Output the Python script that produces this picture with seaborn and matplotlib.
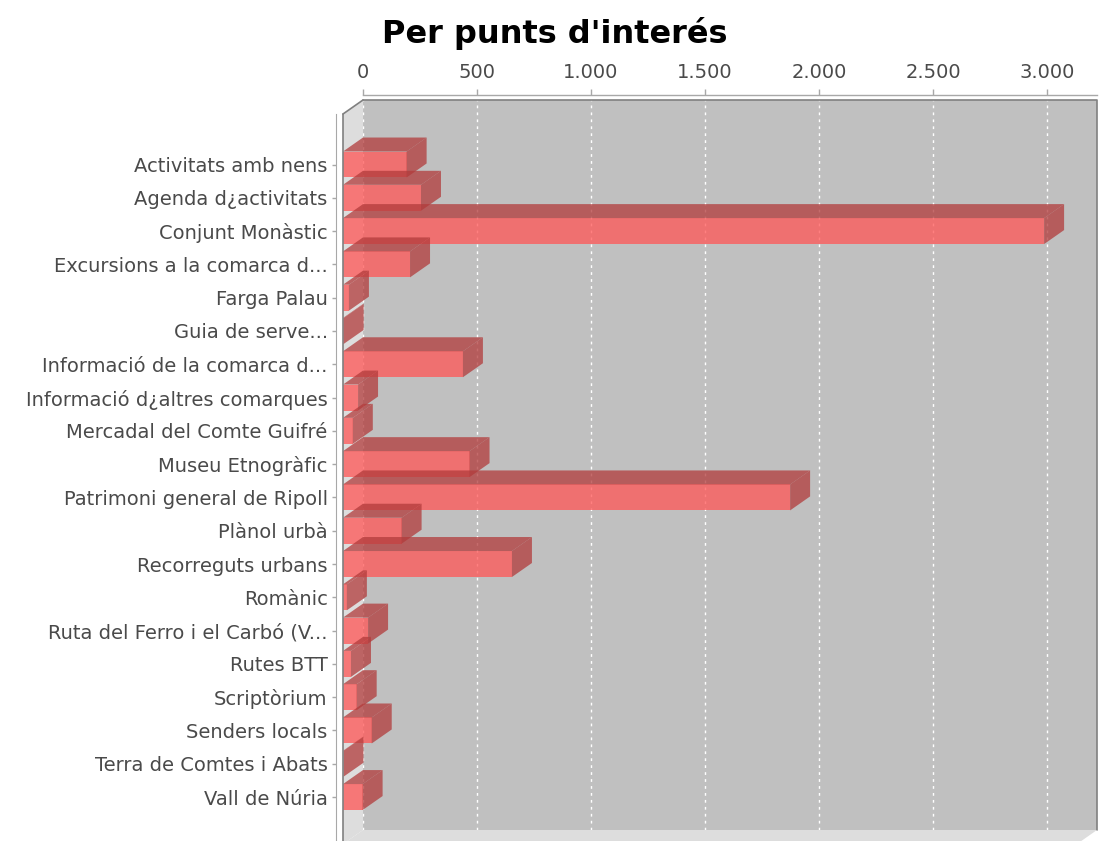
"""
Per punts d'interés - 3D style horizontal bar chart (JFreeChart look)
"""
import matplotlib
matplotlib.use('Agg')
import matplotlib.pyplot as plt
from matplotlib.patches import Polygon
from matplotlib.ticker import FuncFormatter
import seaborn as sns
import pandas as pd

# Data
categories = [
    'Activitats amb nens', 'Agenda d¿activitats', 'Conjunt Monàstic',
    'Excursions a la comarca d...', 'Farga Palau', 'Guia de serve...',
    'Informació de la comarca d...', 'Informació d¿altres comarques',
    'Mercadal del Comte Guifré', 'Museu Etnogràfic', 'Patrimoni general de Ripoll',
    'Plànol urbà', 'Recorreguts urbans', 'Romànic', 'Ruta del Ferro i el Carbó (V...',
    'Rutes BTT', 'Scriptòrium', 'Senders locals', 'Terra de Comtes i Abats',
    'Vall de Núria',
]
visits = [279, 342, 3075, 294, 26, 3, 526, 66, 43, 555, 1961, 257, 741, 17, 110,
          35, 60, 126, 2, 86]
x_ticks = [0, 500, 1000, 1500, 2000, 2500, 3000]
title = "Per punts d'interés"

df = pd.DataFrame({'cat': categories, 'val': visits})

# Colours
BAR = '#FF5555'
BAR_DARK = '#B23B3B'
ALPHA = 0.75
WALL_BACK = '#C0C0C0'
WALL_SIDE = '#DDDDDD'
TXT = '#4A4A4A'
AXIS = '#A8A8A8'
OUTLINE = '#808080'

sns.set_style('white')
plt.rcParams['font.family'] = ['DejaVu Sans']

W, H = 1099, 841
fig = plt.figure(figsize=(W / 100, H / 100), dpi=100)


def frac(l, t, r, b):
    return [l / W, 1 - b / H, (r - l) / W, (b - t) / H]


# 3D depth offset (pixels)
DX, DY = 20, 14
BL, BT, BR, BB = 363, 100, 1097, 830     # back wall box
ax_back = fig.add_axes(frac(BL, BT, BR, BB))
ax_front = fig.add_axes(frac(BL - DX, BT + DY, BR - DX, BB + DY))

XMAX = (BR - BL) / 0.228
YLIM = (20.41, -1.517)

# ---- back wall: value axis on top + dashed grid
ax_back.set_facecolor(WALL_BACK)
ax_back.set_xlim(0, XMAX)
ax_back.set_ylim(*YLIM)
ax_back.set_yticks([])
ax_back.xaxis.tick_top()
ax_back.set_xticks(x_ticks)
ax_back.xaxis.set_major_formatter(FuncFormatter(lambda v, p: f'{int(v):,}'.replace(',', '.')))
ax_back.tick_params(axis='x', top=True, bottom=False, length=4, width=1, color=AXIS,
                    labelsize=14, labelcolor=TXT, pad=5, direction='out')
for s in ['left', 'bottom', 'right']:
    ax_back.spines[s].set_visible(False)
ax_back.spines['top'].set_position(('outward', 3.6))
ax_back.spines['top'].set_color(AXIS)
ax_back.spines['top'].set_linewidth(1)
for t in x_ticks:
    ax_back.axvline(t, color='white', linestyle=(0, (2, 3)), linewidth=1, zorder=0.5)
# wall outline
ax_back.plot([0, 1, 1], [1, 1, 0], transform=ax_back.transAxes, color=OUTLINE,
             linewidth=1.2, clip_on=False, zorder=3)

# ---- front plane: bars drawn by seaborn
ax_front.patch.set_alpha(0)
sns.barplot(data=df, x='val', y='cat', ax=ax_front, color=BAR, saturation=1,
            alpha=ALPHA, width=0.78, orient='h', linewidth=0, edgecolor='none')
ax_front.set_xlim(0, XMAX)
ax_front.set_ylim(*YLIM)
ax_front.set_xlabel('')
ax_front.set_ylabel('')
ax_front.set_xticks([])
for s in ['top', 'right', 'bottom']:
    ax_front.spines[s].set_visible(False)
ax_front.spines['left'].set_position(('outward', 5))
ax_front.spines['left'].set_color(AXIS)
ax_front.tick_params(axis='y', left=True, length=3, width=1, color=AXIS,
                     labelsize=14, labelcolor=TXT, pad=3)

ox = DX * XMAX / (BR - BL)
oy = DY * (YLIM[0] - YLIM[1]) / (BB - BT)

# left wall and floor
y_top, y_bot = YLIM[1], YLIM[0]
ax_front.add_patch(Polygon([(0, y_top), (ox, y_top - oy), (ox, y_bot - oy), (0, y_bot)],
                           closed=True, facecolor=WALL_SIDE, edgecolor='none',
                           clip_on=False, zorder=0.5))
ax_front.add_patch(Polygon([(0, y_bot), (ox, y_bot - oy), (XMAX + ox, y_bot - oy), (XMAX, y_bot)],
                           closed=True, facecolor=WALL_SIDE, edgecolor='none',
                           clip_on=False, zorder=0.5))
ax_front.plot([0, ox], [y_top, y_top - oy], color=OUTLINE, linewidth=1.2,
              clip_on=False, zorder=3)
ax_front.plot([0, 0], [y_top, y_bot], color=OUTLINE, linewidth=1.2,
              clip_on=False, zorder=3)

# top and side faces of the 3D bars
for i, bar in enumerate(ax_front.patches[:len(visits)]):
    y0 = bar.get_y()
    y1 = y0 + bar.get_height()
    v = bar.get_width()
    bar.set_zorder(2 + i * 0.01)
    top = Polygon([(0, y0), (v, y0), (v + ox, y0 - oy), (ox, y0 - oy)], closed=True,
                  facecolor=BAR_DARK, alpha=ALPHA, edgecolor='none', zorder=2 + i * 0.01)
    side = Polygon([(v, y0), (v, y1), (v + ox, y1 - oy), (v + ox, y0 - oy)], closed=True,
                   facecolor=BAR_DARK, alpha=ALPHA, edgecolor='none', zorder=2 + i * 0.01)
    ax_front.add_patch(top)
    ax_front.add_patch(side)

fig.text(0.505, 1 - 34 / H, title, ha='center', va='center', fontsize=23,
         fontweight='bold', color='black')

fig.savefig('out.png', dpi=100, facecolor='white')
